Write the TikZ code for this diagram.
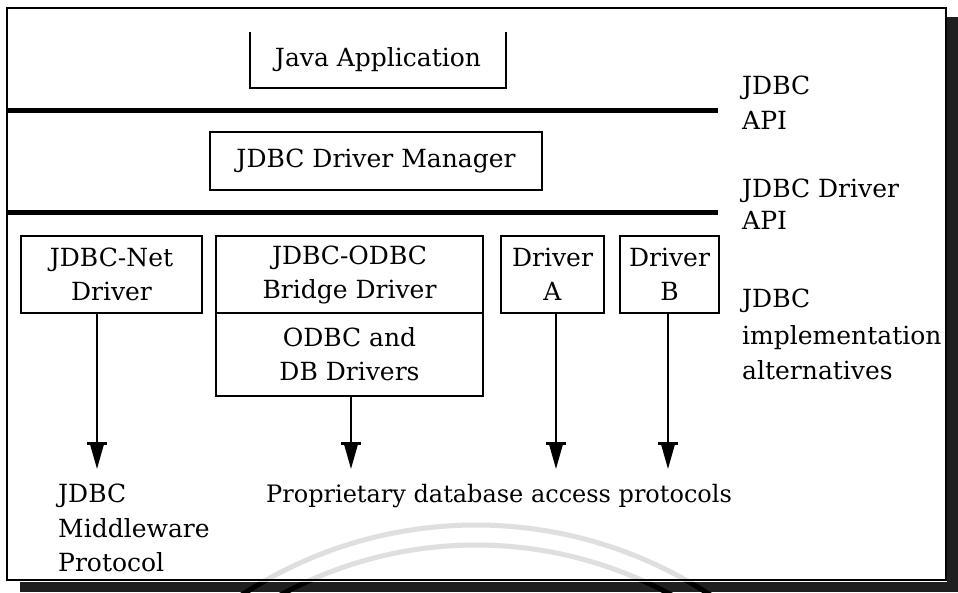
\documentclass[tikz,border=0pt]{standalone}
\usepackage{fontspec}
\setmainfont{DejaVu Serif}
\usetikzlibrary{arrows.meta}
\begin{document}
\begin{tikzpicture}[x=1pt,y=-1pt,
  txt/.style={font=\fontsize{25}{34}\selectfont, inner sep=0pt},
  box/.style={draw, line width=2pt, txt, align=center},
  thickline/.style={line width=5pt},
  arr/.style={line width=2pt, -{Bar[width=20pt,line width=3pt,sep=0pt]Triangle[width=13pt,length=24pt,sep=0pt]}},
  lbl/.style={txt, anchor=base west},
  wm/.style={line width=5pt, gray!25},
  shadow/.style={fill=black!88}
]
\useasboundingbox (0,0) rectangle (958,592);
\fill[white] (0,0) rectangle (958,592);
% watermark arcs
\begin{scope}
  \clip (0,0) rectangle (958,592);
  \draw[wm] (476,952) ++(232:427) arc[start angle=232, end angle=308, radius=427];
  \draw[wm] (476,952) ++(232:407) arc[start angle=232, end angle=308, radius=407];
\end{scope}
% frame and shadow
\draw[line width=2pt] (7,8) rectangle (946,580);
\fill[shadow] (947,17) rectangle (958,592);
\fill[shadow] (20,582) rectangle (958,592);
\begin{scope}
  \clip (20,582) rectangle (958,592);
  \draw[line width=5pt, black] (476,952) ++(232:427) arc[start angle=232, end angle=308, radius=427];
  \draw[line width=5pt, black] (476,952) ++(232:407) arc[start angle=232, end angle=308, radius=407];
\end{scope}
% thick separators
\draw[thickline] (7,110) -- (718,110);
\draw[thickline] (7,212) -- (718,212);
% boxes
\node[txt, minimum width=256pt, minimum height=56pt] (japp) at (378,60) {Java Application};
\draw[line width=2pt] (japp.north west) -- (japp.south west) -- (japp.south east) -- (japp.north east);
\node[box, minimum width=332pt, minimum height=58pt] (dm) at (376,161) {JDBC Driver Manager};
\node[box, minimum width=181pt, minimum height=77pt] (net) at (111.5,274.5) {JDBC-Net\\Driver};
\node[box, minimum width=267pt, minimum height=77pt] (bridge) at (349.5,274.5) {JDBC-ODBC\\Bridge Driver};
\node[box, minimum width=267pt, minimum height=83pt] (odbc) at (349.5,354.5) {ODBC and\\DB Drivers};
\node[box, minimum width=103pt, minimum height=77pt] (da) at (552.5,274.5) {Driver\\A};
\node[box, minimum width=99pt, minimum height=77pt] (db) at (669.5,274.5) {Driver\\B};
% arrows
\coordinate (t1) at (97,469);
\coordinate (t2) at (351,469);
\coordinate (t3) at (556,469);
\coordinate (t4) at (668,469);
\draw[arr] (net.south -| t1) -- (t1);
\draw[arr] (odbc.south -| t2) -- (t2);
\draw[arr] (da.south -| t3) -- (t3);
\draw[arr] (db.south -| t4) -- (t4);
% right labels
\node[lbl] (r1) at (742,94) {JDBC};
\node[lbl] (r2) at (742,129) {API};
\node[lbl] (r3) at (742,197) {JDBC Driver};
\node[lbl] (r4) at (742,229) {API};
\node[lbl] (r5) at (742,307) {JDBC};
\node[lbl] (r6) at (742,344) {implementation};
\node[lbl] (r7) at (742,379) {alternatives};
% bottom labels
\node[lbl] (b1) at (58,502) {JDBC};
\node[lbl] (b2) at (58,537) {Middleware};
\node[lbl] (b3) at (58,571) {Protocol};
\node[lbl, font=\fontsize{24}{34}\selectfont] (b4) at (266,502) {Proprietary database access protocols};
\end{tikzpicture}
\end{document}
